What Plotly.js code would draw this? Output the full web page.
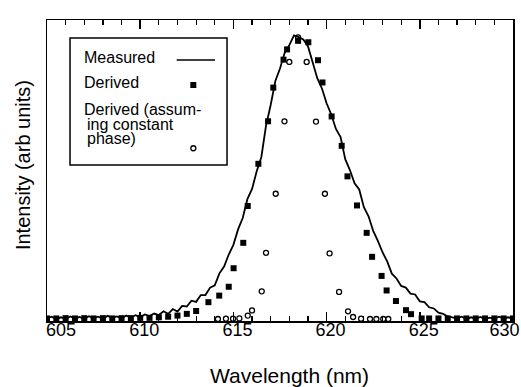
<!DOCTYPE html>
<html>
<head>
<meta charset="utf-8">
<script src="https://cdn.plot.ly/plotly-3.0.1.min.js"></script>
<style>html,body{margin:0;padding:0;background:#fff;}#chart{width:521px;height:387px;}</style>
</head>
<body>
<div id="chart"></div>
<script>
// Measured spectrum (wavelength nm, intensity arb units)
const measuredWl = [605.00,605.25,605.50,605.75,606.00,606.25,606.50,606.75,607.00,607.25,607.50,607.75,
  608.00,608.25,608.50,608.75,609.00,609.25,609.50,609.75,610.00,610.25,610.50,610.75,
  611.00,611.25,611.50,611.75,612.00,612.25,612.50,612.75,613.00,613.25,613.50,613.75,
  614.00,614.25,614.50,614.75,615.00,615.25,615.50,615.75,616.00,616.25,616.50,616.75,
  617.00,617.25,617.50,617.75,618.00,618.25,618.50,618.75,619.00,619.25,619.50,619.75,
  620.00,620.25,620.50,620.75,621.00,621.25,621.50,621.75,622.00,622.25,622.50,622.75,
  623.00,623.25,623.50,623.75,624.00,624.25,624.50,624.75,625.00,625.25,625.50,625.75,
  626.00,626.25,626.50,626.75,627.00,627.25,627.50,627.75,628.00,628.25,628.50,628.75,
  629.00,629.25,629.50,629.75,630.00];
const measuredI = [0.004,0.010,0.002,0.008,0.003,0.011,0.004,0.009,0.002,0.012,0.005,0.010,
  0.003,0.013,0.006,0.011,0.004,0.014,0.007,0.015,0.008,0.018,0.012,0.021,
  0.016,0.029,0.020,0.037,0.028,0.048,0.046,0.066,0.062,0.086,0.086,0.112,
  0.120,0.162,0.186,0.228,0.262,0.316,0.356,0.422,0.458,0.520,0.570,0.680,
  0.752,0.836,0.880,0.935,0.962,0.996,0.990,0.982,0.958,0.904,0.846,0.810,
  0.758,0.719,0.668,0.640,0.562,0.524,0.478,0.456,0.394,0.362,0.311,0.276,
  0.236,0.204,0.161,0.144,0.118,0.112,0.091,0.088,0.064,0.061,0.043,0.039,
  0.024,0.020,0.011,0.008,0.004,0.010,0.002,0.008,0.003,0.009,0.002,0.007,
  0.003,0.010,0.004,0.008,0.003];

// Derived spectrum (filled squares)
const derivedWl = [605.0,605.5,606.0,606.5,607.0,607.5,608.0,608.5,609.0,609.5,610.0,610.5,611.0,611.5,612.0,612.5,613.0,
  613.66,614.24,614.75,615.01,615.53,615.77,616.34,616.86,617.14,617.69,617.88,618.47,619.02,619.54,619.78,
  620.27,620.81,621.12,621.63,622.15,622.44,622.95,623.22,623.72,624.26,624.53,625.10,
  625.5,626.0,626.5,627.0,627.5,628.0,628.5,629.0,629.5,630.0];
const derivedI = [0.004,0.004,0.005,0.004,0.005,0.004,0.005,0.004,0.005,0.005,0.006,0.006,0.008,0.010,0.014,0.020,0.030,
  0.061,0.084,0.115,0.180,0.269,0.398,0.546,0.695,0.813,0.911,0.947,0.977,0.972,0.909,0.831,
  0.712,0.609,0.502,0.400,0.304,0.220,0.153,0.102,0.065,0.033,0.019,0.004,
  0.004,0.004,0.004,0.004,0.004,0.004,0.004,0.004,0.004,0.004];

// Derived assuming constant phase (open circles)
const constPhaseWl = [614.17,614.60,614.98,615.32,615.77,616.00,616.52,616.75,617.27,617.74,618.00,618.47,
  618.93,619.43,619.91,620.16,620.67,621.15,621.42,621.85,622.33,622.67,623.04,623.31];
const constPhaseI = [0.002,0.003,0.003,0.004,0.014,0.032,0.099,0.234,0.441,0.695,0.903,0.989,
  0.903,0.694,0.441,0.232,0.097,0.029,0.009,0.003,0.002,0.002,0.002,0.002];

const tickVals = [605,610,615,620,625,630];
const tickText = ['\u00a0\u00a0\u00a0\u00a0605','610','615','620','625','630\u00a0\u00a0\u00a0\u00a0\u00a0'];

const legendLabels = ['Measured','Derived','Derived (assum-','ing constant','phase)'];
const xTitle = 'Wavelength (nm)';
const yTitle = 'Intensity (arb units)';

const FONT = 'Liberation Sans, Arial, Helvetica, sans-serif';

const traces = [
  {x: measuredWl, y: measuredI, type:'scatter', mode:'lines', name:'Measured',
   line:{color:'#000', width:1.8}, showlegend:false},
  {x: derivedWl, y: derivedI, type:'scatter', mode:'markers', name:'Derived',
   marker:{symbol:'square', size:6, color:'#000'}, showlegend:false},
  {x: constPhaseWl, y: constPhaseI, type:'scatter', mode:'markers', name:'Derived (assuming constant phase)',
   marker:{symbol:'circle-open', size:5, color:'#000', line:{width:1.3, color:'#000'}}, showlegend:false}
];

// legend geometry in paper coords
const shapes = [
  {type:'rect', xref:'paper', yref:'paper', x0:0.0494, x1:0.3863, y0:0.518, y1:0.940,
   line:{color:'#000', width:1.5}, fillcolor:'#fff', layer:'below'},
  {type:'line', xref:'paper', yref:'paper', x0:0.2783, x1:0.3605, y0:0.867, y1:0.867,
   line:{color:'#000', width:1.5}},
  {type:'rect', xref:'paper', yref:'paper', xsizemode:'pixel', ysizemode:'pixel',
   xanchor:0.314, yanchor:0.784, x0:-3, x1:3, y0:-3, y1:3, fillcolor:'#000', line:{width:0}},
  {type:'circle', xref:'paper', yref:'paper', xsizemode:'pixel', ysizemode:'pixel',
   xanchor:0.314, yanchor:0.574, x0:-2.5, x1:2.5, y0:-2.5, y1:2.5, line:{color:'#000', width:1.3}}
];

const legendPos = [[0.0745,0.875],[0.0745,0.792],[0.0745,0.701],[0.0815,0.652],[0.0815,0.606]];
const annotations = legendLabels.map((t,i)=>({
  text:t, xref:'paper', yref:'paper', x:legendPos[i][0], y:legendPos[i][1],
  xanchor:'left', yanchor:'middle', showarrow:false, font:{family:FONT, size:16, color:'#000'}
}));
annotations.push({text:xTitle, xref:'paper', yref:'paper', x:0.521, y:-0.180, xanchor:'center', yanchor:'middle',
  showarrow:false, font:{family:FONT, size:21, color:'#000'}});
annotations.push({text:yTitle, xref:'paper', yref:'paper', x:-0.0515, y:0.518, xanchor:'center', yanchor:'middle',
  textangle:-90, showarrow:false, font:{family:FONT, size:20, color:'#000'}});

const layout = {
  width:521, height:387,
  margin:{l:47, r:8, t:20, b:66, pad:0},
  paper_bgcolor:'#fff', plot_bgcolor:'#fff',
  showlegend:false,
  font:{family:FONT, color:'#000'},
  xaxis:{range:[605,630], showgrid:false, zeroline:false, showline:true, mirror:'ticks',
    linecolor:'#000', linewidth:1.5, ticks:'inside', ticklen:9, tickwidth:1.5, tickcolor:'#000',
    tickvals:tickVals, ticktext:tickText, ticklabelshift:4, ticklabelstandoff:-8, ticklabeloverflow:'allow',
    tickfont:{family:FONT, size:18, color:'#000'},
    minor:{dtick:1, ticks:'inside', ticklen:5, tickwidth:1.2, tickcolor:'#000', showgrid:false}},
  yaxis:{range:[-0.005,1.05], showgrid:false, zeroline:false, showline:true, mirror:true,
    linecolor:'#000', linewidth:1.5, ticks:'', showticklabels:false},
  shapes:shapes,
  annotations:annotations
};

Plotly.newPlot('chart', traces, layout, {displayModeBar:false, staticPlot:true});
</script>
</body>
</html>
